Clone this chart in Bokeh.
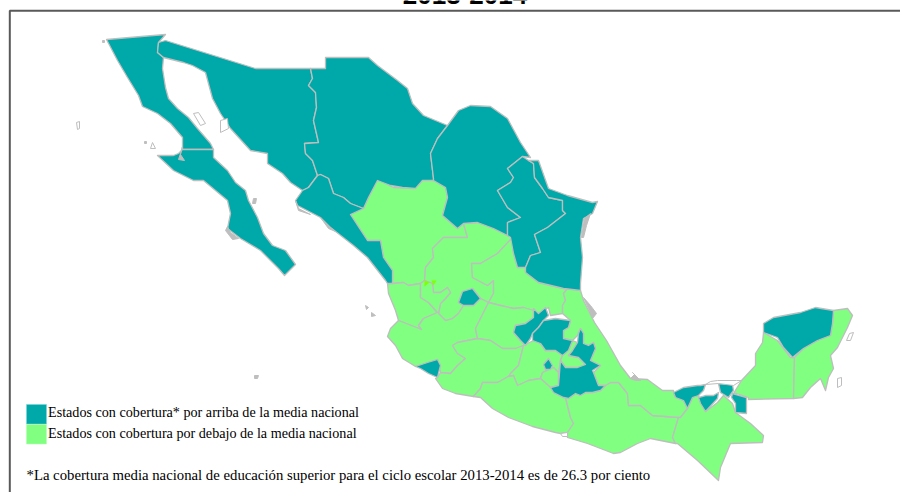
from bokeh.plotting import figure
from bokeh.embed import file_html
from bokeh.resources import INLINE
from bokeh.models import Range1d
from bokeh.core.properties import value

TITLE = "2013-2014"
LEGEND_ABOVE = "Estados con cobertura* por arriba de la media nacional"
LEGEND_BELOW = "Estados con cobertura por debajo de la media nacional"
NOTE = "*La cobertura media nacional de educación superior para el ciclo escolar 2013-2014 es de 26.3 por ciento"

TEAL = "#00A9A9"
GREEN = "#80FF80"
GREY = "#BEBEBE"

# State outlines (map units)
baja_california = [(106,39),(135,36.5),(165,34),(158,42),(157,52),(163,57),(162,68),(165,87),(168,98),(177,108),(188,117),(197,128),(210,143),(213,149),(182,149),(182,137),(170,123),(157,113),(142,106),(138,95),(127,77),(117,60)]
baja_california_sur = [(182,149),(213,149),(213,157),(227,170),(235,182),(245,190),(248,200),(257,217),(263,233),(272,245),(285,250),(295,264),(284,275),(278,268),(260,250),(240,238),(227,228),(230,213),(227,200),(203,180),(193,180),(173,170),(157,155),(173,155),(178,153)]
sonora = [(165,40),(255,68),(310,68),(312,78),(308,85),(315,92),(316,107),(313,120),(318,142),(304,143),(305,153),(312,160),(317,175),(308,187),(302,190),(290,182),(282,173),(267,163),(267,153),(250,150),(230,128),(220,113),(212,98),(205,72),(192,65),(183,62),(163,57),(157,52),(158,42)]
chihuahua = [(310,68),(325,68),(325,57),(368,57),(377,65),(397,80),(407,88),(412,103),(423,115),(447,125),(437,138),(430,153),(433,178),(433,180),(422,180),(415,188),(402,187),(390,185),(377,180),(368,197),(363,208),(350,203),(343,197),(333,193),(328,178),(320,174),(317,175),(312,160),(305,153),(304,143),(318,142),(313,120),(316,107),(315,92),(308,85),(312,78)]
coahuila = [(447,125),(458,110),(470,105),(490,106),(507,118),(520,142),(530,157),(522,156),(507,168),(513,177),(510,182),(497,190),(507,207),(520,217),(507,222),(507,235),(493,228),(477,222),(463,223),(457,228),(442,215),(447,197),(445,187),(433,180),(433,178),(430,153),(437,138)]
nuevo_leon = [(522,156),(528,160),(533,163),(534,177),(542,188),(548,197),(562,200),(562,210),(565,213),(547,227),(534,234),(540,252),(530,255),(525,267),(517,267),(513,253),(510,237),(507,235),(507,222),(520,217),(507,207),(497,190),(510,182),(513,177),(507,168)]
tamaulipas = [(528,160),(538,160),(548,188),(567,195),(592,202),(597,201),(592,213),(583,218),(580,237),(582,257),(580,283),(580,290),(563,288),(538,282),(525,272),(525,267),(530,255),(540,252),(534,234),(547,227),(565,213),(562,210),(562,200),(548,197),(542,188),(534,177),(533,163)]
sinaloa = [(317,175),(320,174),(328,178),(333,193),(343,197),(350,203),(363,208),(350,214),(367,240),(380,240),(383,257),(392,270),(392,283),(387,283),(385,280),(367,257),(353,245),(330,227),(320,217),(297,205),(295,200),(302,190),(308,187)]
durango = [(350,214),(363,208),(368,197),(377,179),(393,187),(413,188),(422,179),(433,180),(445,187),(447,197),(442,215),(457,228),(463,223),(467,237),(443,237),(432,248),(433,257),(425,267),(424,280),(420,283),(408,285),(403,282),(392,283),(392,270),(383,257),(380,240),(367,240)]
zacatecas = [(443,237),(467,237),(463,223),(477,222),(493,228),(507,235),(512,237),(497,253),(480,263),(471,263),(472,277),(487,285),(493,280),(493,293),(488,302),(480,298),(472,288),(462,291),(458,302),(463,305),(458,313),(452,318),(445,320),(438,313),(440,303),(445,298),(450,292),(447,287),(440,292),(433,292),(432,283),(424,280),(425,267),(433,257),(432,248)]
san_luis_potosi = [(512,237),(513,253),(517,267),(525,267),(525,272),(538,282),(563,288),(567,288),(563,293),(565,300),(562,305),(562,313),(550,315),(548,307),(538,313),(533,310),(523,307),(513,308),(500,305),(488,302),(493,293),(493,280),(487,285),(472,277),(471,263),(480,263),(497,253)]
nayarit = [(392,283),(403,282),(408,285),(420,283),(420,297),(428,302),(437,312),(423,318),(418,325),(421,329),(398,320),(395,310),(388,293),(387,283)]
jalisco = [(398,320),(421,329),(418,325),(423,318),(437,312),(428,302),(420,297),(420,283),(424,280),(432,283),(433,292),(440,292),(447,287),(450,292),(445,298),(440,303),(438,313),(445,320),(452,318),(458,313),(463,305),(473,305),(480,298),(488,302),(475,328),(477,338),(457,342),(452,345),(457,353),(465,358),(457,365),(450,373),(440,372),(437,359),(415,366),(402,358),(395,345),(387,336),(390,328)]
guanajuato = [(488,302),(500,305),(513,308),(523,307),(533,310),(533,317),(525,323),(515,325),(513,332),(520,340),(525,345),(523,345),(515,348),(502,348),(490,340),(477,338),(475,328)]
michoacan = [(477,338),(490,340),(502,348),(515,348),(523,345),(521,353),(518,365),(510,373),(508,376),(497,382),(482,382),(480,388),(473,396),(455,393),(442,388),(435,378),(437,377),(440,372),(450,373),(457,365),(465,358),(457,353),(452,345),(457,342)]
estado_de_mexico = [(523,345),(533,340),(540,343),(545,350),(555,350),(562,355),(560,360),(558,372),(553,367),(542,372),(540,378),(528,380),(517,385),(513,375),(508,376),(510,373),(518,365),(521,353)]
morelos = [(542,372),(553,367),(558,372),(558,385),(550,387),(540,378)]
guerrero = [(508,376),(513,375),(517,385),(528,380),(540,378),(550,387),(553,392),(563,397),(565,397),(570,417),(573,423),(567,432),(560,433),(555,432),(532,426),(508,417),(492,408),(480,397),(473,396),(480,388),(482,382),(497,382)]
oaxaca = [(565,397),(568,398),(575,393),(580,395),(585,392),(592,392),(600,390),(605,385),(610,382),(618,382),(627,393),(628,405),(640,405),(652,415),(678,417),(672,437),(675,443),(670,442),(650,438),(637,443),(620,452),(613,453),(587,443),(567,437),(567,432),(573,423),(570,417)]
veracruz = [(580,290),(583,300),(594,322),(606,340),(620,365),(630,378),(647,379),(662,390),(673,390),(673,392),(675,397),(683,400),(687,408),(680,417),(678,417),(652,415),(640,405),(628,405),(627,393),(618,382),(610,382),(605,385),(598,385),(593,372),(600,365),(590,360),(595,348),(593,342),(588,345),(583,343),(583,333),(580,328),(577,335),(572,340),(563,338),(563,330),(568,327),(570,320),(562,313),(562,305),(565,300),(563,293),(567,288)]
tlaxcala = [(562,355),(568,350),(572,340),(577,342),(572,350),(568,355),(578,357),(585,364),(577,367),(565,367),(560,360)]
chiapas = [(680,417),(687,408),(692,397),(698,395),(705,411),(717,402),(723,395),(732,403),(735,412),(750,423),(763,435),(762,442),(730,443),(720,467),(718,480),(697,460),(677,443),(675,443),(672,437),(678,417)]
campeche = [(733,393),(741,380),(755,365),(755,353),(762,342),(763,332),(777,340),(790,357),(794,357),(793,398),(748,399),(748,397),(736,393)]
quintana_roo = [(833,310),(847,308),(852,315),(847,327),(837,347),(830,355),(833,368),(828,377),(825,390),(820,378),(810,387),(802,397),(793,398),(794,357),(803,348),(817,340),(830,335),(832,323)]
yucatan = [(763,332),(763,323),(773,317),(800,312),(815,307),(833,310),(832,323),(830,335),(817,340),(803,348),(792,357),(783,347),(777,337)]
queretaro = [(533,308),(538,313),(545,307),(548,315),(543,320),(538,327),(532,333),(530,338),(525,345),(520,340),(513,332),(515,325),(525,323),(533,317)]
hidalgo = [(543,320),(555,318),(570,320),(568,327),(563,330),(563,338),(572,340),(568,350),(562,355),(555,350),(545,350),(540,343),(532,340),(532,333),(538,327)]
puebla = [(580,328),(583,333),(583,343),(588,345),(593,342),(595,348),(590,360),(600,365),(592,370),(593,372),(598,385),(605,385),(600,390),(592,392),(585,392),(580,395),(575,393),(568,398),(563,397),(553,392),(550,387),(558,385),(560,360),(565,367),(577,367),(585,364),(578,357),(568,355),(572,350),(577,342),(578,333)]
aguascalientes = [(458,302),(462,291),(472,288),(480,298),(473,305),(463,305)]
colima = [(415,366),(427,362),(437,359),(440,365),(437,377),(428,373),(420,368)]
distrito_federal = [(548,358),(552,365),(550,369),(545,369),(543,364)]
tabasco_oeste = [(673,392),(683,387),(697,385),(700,385),(705,384),(703,390),(698,395),(692,397),(687,408),(683,400),(675,397)]
tabasco_centro = [(698,397),(705,395),(713,395),(718,392),(717,398),(705,411),(700,403)]
tabasco_norte = [(718,383),(732,384),(733,390),(728,397),(720,392)]
tabasco_este = [(732,393),(746,397),(746,413),(735,412),(735,403),(731,397)]

green_states = [durango, zacatecas, san_luis_potosi, nayarit, jalisco, guanajuato, michoacan,
                estado_de_mexico, morelos, guerrero, oaxaca, veracruz, tlaxcala, chiapas,
                campeche, quintana_roo]
teal_states = [baja_california, baja_california_sur, sonora, chihuahua, coahuila, nuevo_leon,
               tamaulipas, sinaloa, yucatan, queretaro, hidalgo, puebla, aguascalientes, colima,
               distrito_federal, tabasco_oeste, tabasco_centro, tabasco_norte, tabasco_este]

islands = [
    [(76,122),(79,121),(79,128),(77,129)],
    [(152,142),(155,148),(150,148)],
    [(193,113),(198,112),(205,123),(200,125)],
    [(220,120),(227,118),(228,128),(220,132)],
    [(837,378),(841,377),(841,385),(837,387)],
    [(849,333),(853,332),(850,340),(846,340)],
    [(710,381),(717,380),(736,380),(741,380),(733,385),(718,383),(705,384)],
    [(560,433),(567,432),(567,436),(562,436)],
]
grey_blobs = [
    [(182,146),(180,153),(178,159),(184,160),(180,154)],
    [(227,226),(230,232),(238,238),(232,239),(225,230)],
    [(295,200),(298,208),(310,214),(298,210)],
    [(320,217),(330,227),(335,231),(328,228)],
    [(630,378),(634,374),(632,372),(640,380),(635,380)],
    [(102,40),(104,40),(104,42),(102,42)],
    [(144,141),(146,141),(146,143),(144,143)],
    [(253,198),(256,198),(255,203),(252,203)],
    [(365,305),(368,307),(366,309)],
    [(371,312),(375,315),(371,316)],
    [(254,375),(258,375),(257,378),(254,378)],
    [(584,218),(590,213),(586,225),(583,237),(581,237)],
    [(583,297),(590,305),(596,313),(592,318),(588,308)],
]
lime_marks = [[(424,280),(429,282),(424,286)], [(431,280),(436,280),(433,285)]]

frame_xs = [9.3, 9.3, 908]
frame_ys = [500, 10.2, 10.2]
legend_left, legend_right = 26, 46
legend_tops = [404, 424]
legend_bottoms = [423.5, 443.5]

p = figure(width=900, height=492, output_backend="svg", toolbar_location=None,
           x_range=Range1d(0, 900), y_range=Range1d(492, 0), min_border=0,
           background_fill_color="white", border_fill_color="white")
p.xaxis.visible = False
p.yaxis.visible = False
p.grid.visible = False
p.outline_line_color = None


def draw(shapes, fill, line=GREY, width=1.3):
    p.patches([[pt[0] for pt in s] for s in shapes], [[pt[1] for pt in s] for s in shapes],
              fill_color=fill, line_color=line, line_width=width, line_join="round")


draw(green_states, GREEN)
draw(teal_states, TEAL)
draw(islands, "white", width=1)
draw(grey_blobs, GREY, width=1)
draw(lime_marks, "#80FF00", line=None)

p.line(frame_xs, frame_ys, line_color="#595959", line_width=2)
p.quad(left=[legend_left] * 2, right=[legend_right] * 2, top=legend_tops, bottom=legend_bottoms,
       fill_color=[TEAL, GREEN], line_color=["#7FD4D4", "#B0FFB0"], line_width=0.5)

serif = dict(text_font=value("Liberation Serif"), text_color="black",
             text_baseline="alphabetic", text_align="left")
p.text([47.5], [411.5], text=[LEGEND_ABOVE], text_font_size="14.15px", **serif)
p.text([47.5], [432], text=[LEGEND_BELOW], text_font_size="14.15px", **serif)
p.text([26], [474.3], text=[NOTE], text_font_size="14.75px", **serif)
p.text([464.5], [-6], text=[TITLE], text_font=value("Liberation Sans"), text_font_style="bold",
       text_font_size="26px", text_color="black", text_align="center", text_baseline="alphabetic")

open("out.html", "w").write(file_html(p, INLINE))
